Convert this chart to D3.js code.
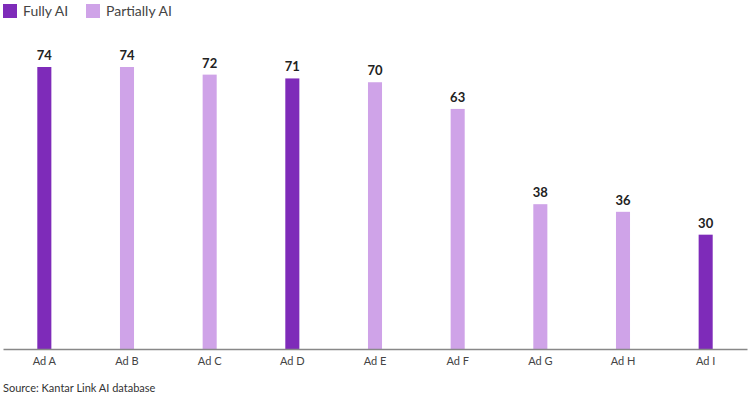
<!DOCTYPE html>
<html><head><meta charset="utf-8">
<script src="https://cdn.jsdelivr.net/npm/d3@7/dist/d3.min.js"></script>
<style>body{margin:0;background:#fff}svg{display:block}text{font-family:Lato,"Noto Sans",sans-serif}</style>
</head><body><svg id="c" width="750" height="400"></svg>
<script>
const categories = ["Ad A","Ad B","Ad C","Ad D","Ad E","Ad F","Ad G","Ad H","Ad I"];
const values = [74,74,72,71,70,63,38,36,30];
const types = ["Fully AI","Partially AI","Partially AI","Fully AI","Partially AI","Partially AI","Partially AI","Partially AI","Fully AI"];
const legendLabels = ["Fully AI","Partially AI"];
const source = "Source: Kantar Link AI database";

const colors = {"Fully AI":"#7E2BB9","Partially AI":"#CFA3E8"};
const svg = d3.select("#c");
const x = d3.scaleBand().domain(categories).range([3,747]).paddingInner(0.83).paddingOuter(0.415);
const y = d3.scaleLinear().domain([0,74]).range([349,67]);

svg.selectAll("rect.bar").data(values).join("rect").attr("class","bar")
  .attr("x",(d,i)=>x(categories[i])).attr("width",x.bandwidth())
  .attr("y",d=>y(d)).attr("height",d=>y(0)-y(d))
  .attr("fill",(d,i)=>colors[types[i]]);

svg.selectAll("text.val").data(values).join("text").attr("class","val")
  .attr("x",(d,i)=>x(categories[i])+x.bandwidth()/2).attr("y",d=>y(d)-7)
  .attr("text-anchor","middle").attr("font-size",13).attr("font-weight","bold").attr("fill","#222")
  .text(d=>d);

const ax = svg.append("g").attr("transform",`translate(0,${y(0)})`)
  .call(d3.axisBottom(x).tickSize(0).tickPadding(8));
ax.select(".domain").attr("stroke","#888").attr("stroke-width",1.5);
ax.selectAll("text").attr("font-size",11).attr("fill","#444").style("font-family","Lato,'Noto Sans',sans-serif");

const lg = svg.append("g");
const lx = [3,86];
legendLabels.forEach((l,i)=>{
  lg.append("rect").attr("x",lx[i]).attr("y",4).attr("width",14).attr("height",14).attr("fill",colors[l]);
  lg.append("text").attr("x",lx[i]+20).attr("y",16).attr("font-size",14).attr("fill","#444").text(l);
});

svg.append("text").attr("x",3).attr("y",392).attr("font-size",11).attr("fill","#333").text(source);
</script></body></html>
